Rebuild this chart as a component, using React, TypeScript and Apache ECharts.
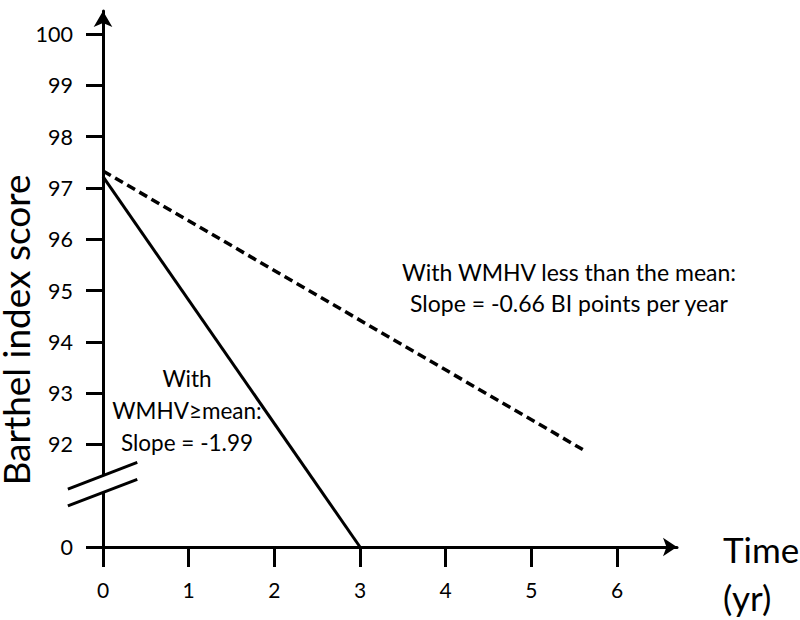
import { useEffect, useRef } from "react";
import * as echarts from "echarts";

// Axis ticks / labels
const xTicks = [0, 1, 2, 3, 4, 5, 6];
const yTicks = [90, 92, 93, 94, 95, 96, 97, 98, 99, 100];
const yZeroValue = 90; // bottom of broken axis, labelled "0"
const yAxisTitle = "Barthel index score";
const xAxisTitle = "Time\n(yr)";

// Series
const solidX = [0, 3];
const solidY = [97.22, 90];
const dashedX = [0, 5.6];
const dashedY = [97.33, 91.9];

// Axis break (data units)
const breakGap = [91.07, 91.4];
const breakUpper = [[-0.41, 91.13], [0.4, 91.65]];
const breakLower = [[-0.41, 90.8], [0.4, 91.32]];

const FONT = "Lato";

export default function App() {
  const ref = useRef<HTMLDivElement>(null);
  useEffect(() => {
    if (!ref.current) return;
    const chart = echarts.init(ref.current, null, { renderer: "svg" });
    const option: any = {
      animation: false,
      backgroundColor: "#fff",
      grid: {
        left: 103,
        right: 123,
        top: 11,
        bottom: 73,
        containLabel: false,
        outerBoundsMode: "none",
      },
      xAxis: {
        type: "value",
        min: 0,
        max: 6.7,
        splitLine: { show: false },
        axisLine: {
          show: true,
          symbol: ["none", "arrow"],
          symbolSize: [14, 14],
          lineStyle: { color: "#000", width: 3 },
        },
        axisTick: {
          show: true,
          customValues: xTicks,
          length: 20,
          lineStyle: { color: "#000", width: 3 },
        },
        axisLabel: {
          customValues: xTicks,
          margin: 32,
          fontSize: 21,
          fontFamily: FONT,
          color: "#000",
        },
        name: xAxisTitle,
        nameLocation: "end",
        nameGap: 46,
        nameTextStyle: {
          fontSize: 35,
          fontFamily: FONT,
          color: "#000",
          align: "left",
          verticalAlign: "top",
          lineHeight: 48,
          padding: [-22, 0, 0, 0],
        },
      },
      yAxis: {
        type: "value",
        min: 90,
        max: 100.45,
        splitLine: { show: false },
        axisLine: {
          show: true,
          symbol: ["none", "arrow"],
          symbolSize: [14, 16],
          lineStyle: { color: "#000", width: 3 },
        },
        axisTick: {
          show: true,
          customValues: yTicks,
          length: 17,
          lineStyle: { color: "#000", width: 3 },
        },
        axisLabel: {
          customValues: yTicks,
          margin: 30,
          fontSize: 21.5,
          fontFamily: FONT,
          color: "#000",
          formatter: (v: number) => (v === yZeroValue ? "0" : String(v)),
        },
      },
      series: [
        {
          type: "line",
          data: solidX.map((x, i) => [x, solidY[i]]),
          symbol: "none",
          lineStyle: { color: "#000", width: 3 },
          z: 3,
        },
        {
          type: "line",
          data: dashedX.map((x, i) => [x, dashedY[i]]),
          symbol: "none",
          lineStyle: { color: "#000", width: 3.5, type: [9, 5] },
          z: 3,
        },
      ],
    };
    chart.setOption(option);

    const p = (pt: number[]) => chart.convertToPixel({ gridIndex: 0 }, pt) as number[];
    const g0 = p([0, breakGap[1]]);
    const g1 = p([0, breakGap[0]]);
    const u0 = p(breakUpper[0]);
    const u1 = p(breakUpper[1]);
    const l0 = p(breakLower[0]);
    const l1 = p(breakLower[1]);

    chart.setOption({
      graphic: [
        {
          type: "rect",
          shape: { x: g0[0] - 4, y: g0[1], width: 8, height: g1[1] - g0[1] },
          style: { fill: "#fff" },
          z: 100,
        },
        {
          type: "line",
          shape: { x1: u0[0], y1: u0[1], x2: u1[0], y2: u1[1] },
          style: { stroke: "#000", lineWidth: 3 },
          z: 101,
        },
        {
          type: "line",
          shape: { x1: l0[0], y1: l0[1], x2: l1[0], y2: l1[1] },
          style: { stroke: "#000", lineWidth: 3 },
          z: 101,
        },
        {
          type: "text",
          x: 15,
          y: 330,
          rotation: Math.PI / 2,
          style: {
            text: yAxisTitle,
            fontSize: 37,
            lineHeight: 30,
            fontFamily: FONT,
            fill: "#000",
            align: "center",
            verticalAlign: "middle",
          },
          z: 50,
        },
        {
          type: "text",
          x: 569,
          y: 287,
          style: {
            text: "With WMHV less than the mean:\nSlope = -0.66 BI points per year",
            fontSize: 23,
            fontFamily: FONT,
            fill: "#000",
            align: "center",
            verticalAlign: "middle",
            lineHeight: 31,
          },
          z: 50,
        },
        {
          type: "text",
          x: 187,
          y: 410,
          style: {
            text: "With\nWMHV≥mean:\nSlope = -1.99",
            fontSize: 22.5,
            fontFamily: FONT,
            fill: "#000",
            align: "center",
            verticalAlign: "middle",
            lineHeight: 32,
          },
          z: 50,
        },
      ],
    });

    return () => chart.dispose();
  }, []);
  return (
    <div
      ref={ref}
      style={{ position: "absolute", left: 0, top: 0, width: 800, height: 620 }}
    />
  );
}
